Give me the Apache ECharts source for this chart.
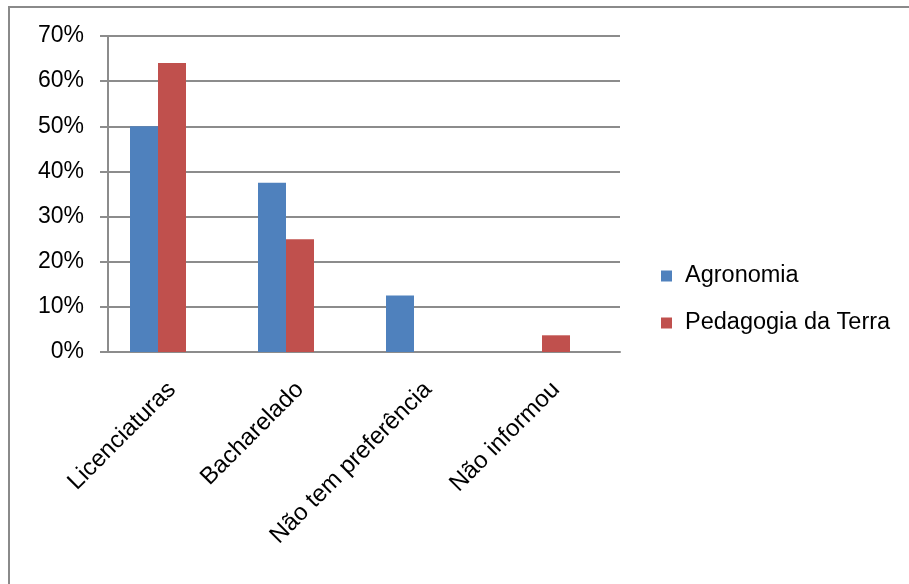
<!DOCTYPE html>
<html>
<head>
<meta charset="utf-8">
<script src="https://cdn.jsdelivr.net/npm/echarts@6/dist/echarts.min.js"></script>
<style>
  html, body { margin: 0; padding: 0; background: #ffffff; }
  #chart { width: 909px; height: 584px; }
</style>
</head>
<body>
<div id="chart"></div>
<script>
// Categories and series values (percent)
const categories = ['Licenciaturas', 'Bacharelado', 'Não tem preferência', 'Não informou'];
const agronomia = [50, 37.5, 12.5, 0];
const pedagogiaDaTerra = [64, 25, 0, 3.7];
const seriesNames = ['Agronomia', 'Pedagogia da Terra'];
const yTicks = [0, 10, 20, 30, 40, 50, 60, 70];

const FONT = 'Liberation Sans';
const GRID_COLOR = '#8c8c8c';

const chart = echarts.init(document.getElementById('chart'), null, { renderer: 'canvas' });

chart.setOption({
  backgroundColor: '#ffffff',
  animation: false,
  graphic: [{
    type: 'rect',
    shape: { x: 9, y: 7, width: 960, height: 640 },
    style: { fill: 'none', stroke: '#8a8a8a', lineWidth: 2 },
    silent: true
  }],
  grid: { left: 108, right: 289, top: 36, bottom: 232 },
  legend: {
    data: seriesNames,
    orient: 'vertical',
    left: 656,
    top: 259,
    icon: 'rect',
    itemWidth: 11,
    itemHeight: 11,
    itemGap: 23,
    textStyle: { fontFamily: FONT, fontSize: 23.5, lineHeight: 24, color: '#000000', padding: [0, 0, 0, 8] }
  },
  xAxis: {
    type: 'category',
    data: categories,
    axisLine: { lineStyle: { color: GRID_COLOR, width: 2 } },
    axisTick: { length: 7, lineStyle: { color: GRID_COLOR, width: 2 } },
    axisLabel: {
      rotate: 45,
      interval: 0,
      margin: 34,
      fontFamily: FONT,
      fontSize: 24,
      color: '#000000'
    }
  },
  yAxis: {
    type: 'value',
    min: yTicks[0],
    max: yTicks[yTicks.length - 1],
    interval: 10,
    axisLine: { show: true, lineStyle: { color: GRID_COLOR, width: 2 } },
    axisTick: { show: true, length: 8, lineStyle: { color: GRID_COLOR, width: 2 } },
    splitLine: { lineStyle: { color: GRID_COLOR, width: 2 } },
    axisLabel: {
      formatter: v => v + '%',
      margin: 24,
      fontFamily: FONT,
      fontSize: 23,
      color: '#000000'
    }
  },
  series: [
    {
      name: seriesNames[0],
      type: 'bar',
      data: agronomia,
      barWidth: 28,
      barGap: '0%',
      itemStyle: { color: '#4F81BD' }
    },
    {
      name: seriesNames[1],
      type: 'bar',
      data: pedagogiaDaTerra,
      barWidth: 28,
      barGap: '0%',
      itemStyle: { color: '#C0504D' }
    },
    {
      // empty third slot in each group (keeps the column layout)
      name: '',
      type: 'bar',
      data: categories.map(() => null),
      barWidth: 28,
      barGap: '0%',
      itemStyle: { color: 'transparent' }
    }
  ]
});
</script>
</body>
</html>
